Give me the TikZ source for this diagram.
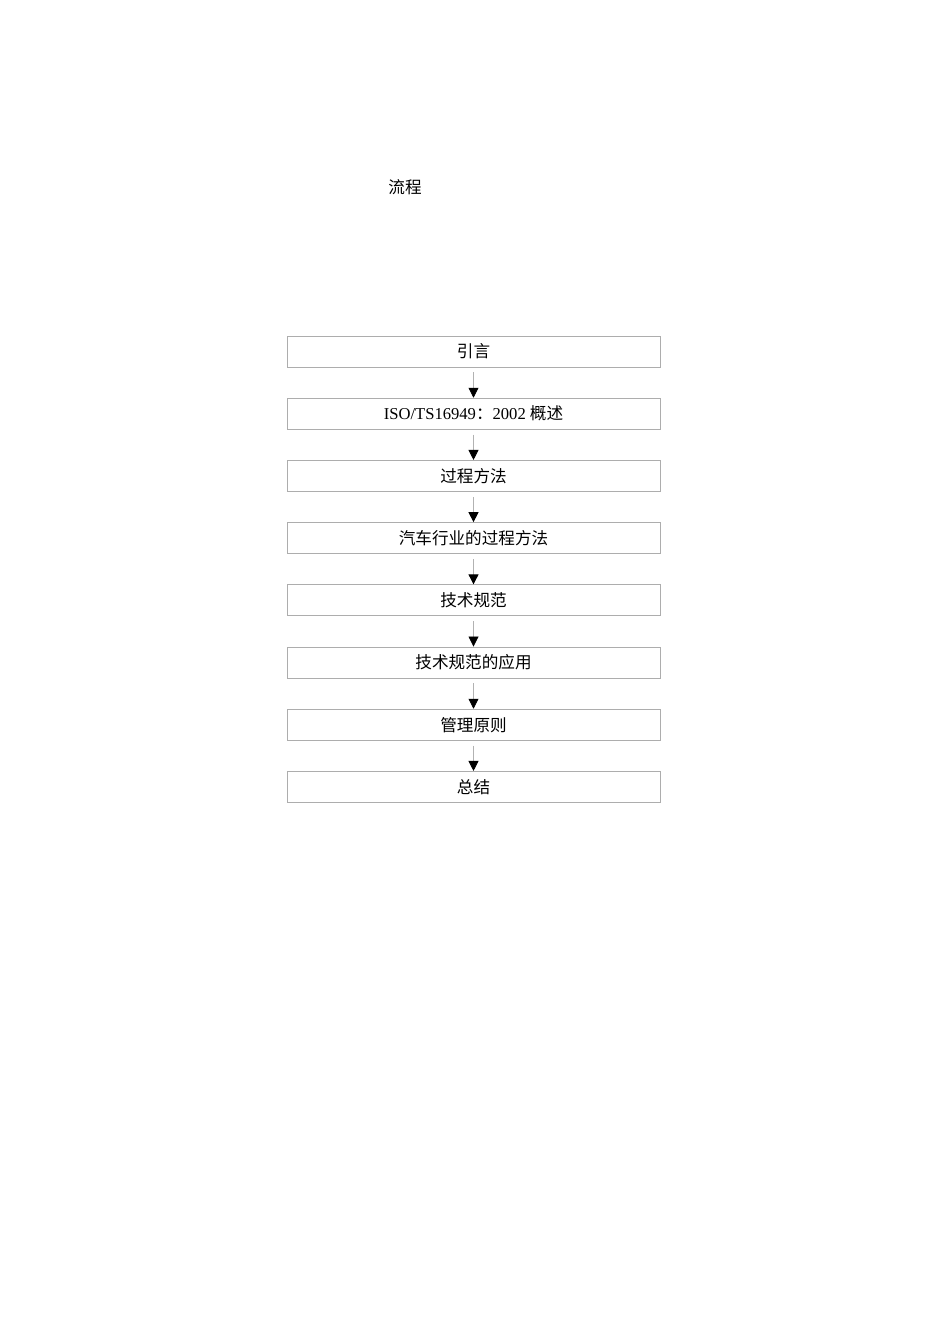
\documentclass[tikz,border=0pt]{standalone}
\usepackage{fontspec}
\setmainfont{Liberation Serif}
\newfontfamily\cjk{Noto Sans CJK SC}
\usetikzlibrary{arrows.meta}
\begin{document}
\begin{tikzpicture}[x=1pt,y=-1pt,
  stepbox/.style={draw=black!32,line width=0.9pt,minimum width=373pt,minimum height=31pt,inner sep=0pt,font=\fontsize{16.6pt}{19pt}\selectfont},
  conn/.style={draw=black!30,line width=0.8pt,shorten <=5pt,-{Triangle[width=10pt,length=10pt,color=black]}},
  lbl/.style={font=\fontsize{16.6pt}{19pt}\selectfont,inner sep=0pt}]
\useasboundingbox (0,0) rectangle (950,1344);
\node[lbl] (t) at (405,187.5) {\cjk 流程};
\node[stepbox] (n1) at (473.5,351.5) {\cjk 引言};
\node[stepbox] (n2) at (473.5,413.7) {ISO/TS16949{\cjk ：}2002 {\cjk 概述}};
\node[stepbox] (n3) at (473.5,475.9) {\cjk 过程方法};
\node[stepbox] (n4) at (473.5,538.1) {\cjk 汽车行业的过程方法};
\node[stepbox] (n5) at (473.5,600.3) {\cjk 技术规范};
\node[stepbox] (n6) at (473.5,662.5) {\cjk 技术规范的应用};
\node[stepbox] (n7) at (473.5,724.7) {\cjk 管理原则};
\node[stepbox] (n8) at (473.5,786.9) {\cjk 总结};
\foreach \a/\b in {n1/n2,n2/n3,n3/n4,n4/n5,n5/n6,n6/n7,n7/n8}
  \draw[conn] (\a) -- (\b);
\end{tikzpicture}
\end{document}
